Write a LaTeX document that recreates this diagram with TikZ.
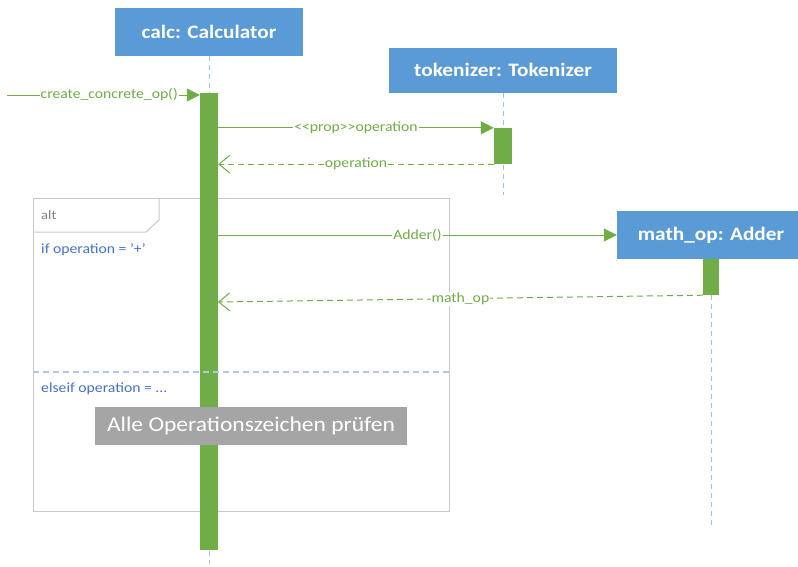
\documentclass[tikz,border=0pt]{standalone}
\usepackage{fontspec}
\setmainfont[FakeStretch=1.12]{Carlito}
\usepackage{tikz}
\usetikzlibrary{arrows.meta}
\definecolor{umlblue}{HTML}{5B9BD5}
\definecolor{umlgreen}{HTML}{70AD47}
\definecolor{lifeblue}{HTML}{9DC3E6}
\definecolor{condblue}{HTML}{4472C4}
\definecolor{sepblue}{HTML}{B4C7E7}
\definecolor{framegray}{HTML}{C8C8C8}
\definecolor{notegray}{HTML}{A5A5A5}

\begin{document}
\begin{tikzpicture}[x=1pt, y=-1pt,
  object/.style={fill=umlblue, text=white, font=\fontsize{19}{23}\selectfont\bfseries, minimum height=48pt, inner sep=0pt},
  activation/.style={fill=umlgreen, minimum width=18pt, inner sep=0pt},
  lifeline/.style={draw=lifeblue, line width=1pt, dash pattern=on 5pt off 4pt},
  call/.style={draw=umlgreen, line width=1pt, -{Triangle[length=13pt,width=13pt]}},
  reply/.style={draw=umlgreen, line width=1pt, dash pattern=on 6pt off 4pt, -{Straight Barb[length=11pt,width=18pt]}},
  msglabel/.style={fill=white, text=umlgreen, font=\fontsize{14}{16}\selectfont, inner sep=1pt},
  cond/.style={text=condblue, font=\fontsize{14}{16}\selectfont, anchor=west, inner sep=0pt}]
  \useasboundingbox (0,0) rectangle (798,566);

  % alt fragment
  \draw[framegray, line width=1pt] (33,198) rectangle (449,511);
  \draw[framegray, line width=1pt] (33,232) -- (146,232) -- (159,220) -- (159,198);
  \node[anchor=west, text=gray, font=\fontsize{13}{15}\selectfont, inner sep=0pt] (alt) at (41,215) {alt};
  \node[cond] (ifplus) at (41,250) {if operation = '+'};
  \node[cond] (elseif) at (41,389) {elseif operation = ...};

  \node[object, minimum width=188pt] (calc) at (209,32) {calc: Calculator};
  \node[object, minimum width=228pt, minimum height=45pt] (tokenizer) at (503,70) {tokenizer: Tokenizer};
  \node[object, minimum width=188pt] (mathop) at (711,235) {math\_op: Adder};

  \draw[lifeline] (calc.south) -- ++(0,508);
  \draw[lifeline] (tokenizer.south) -- ++(0,102);
  \draw[lifeline] (mathop.south) -- ++(0,266);

  \node[activation, minimum height=457pt] (calcbar) at (209,321.5) {};
  \node[activation, minimum height=36pt] (tokenizerbar) at (503,146) {};
  \node[activation, minimum width=16pt, minimum height=36pt] (mathopbar) at (711,277) {};

  \draw[sepblue, line width=1.5pt, dash pattern=on 6pt off 4pt] (33,372) -- (449,372);
  \node[fill=notegray, text=white, font=\fontsize{21}{25}\selectfont, minimum width=312pt, minimum height=38pt] (check) at (251,426) {Alle Operationszeichen prüfen};

  % messages
  \coordinate (caller) at (7,95);
  \draw[call] (caller) -- (caller -| calcbar.west) node[msglabel, pos=0.53] {create\_concrete\_op()};
  \draw[call] (calcbar.east |- tokenizerbar.north) -- (tokenizerbar.north west) node[msglabel, midway] {\textless{}\textless{}prop\textgreater{}\textgreater{}operation};
  \draw[reply] (tokenizerbar.south west) -- (calcbar.east |- tokenizerbar.south) node[msglabel, midway] {operation};
  \draw[call] (calcbar.east |- mathop.west) -- (mathop.west) node[msglabel, midway] {Adder()};
  \coordinate (mathopreturn) at (218,302);
  \draw[reply] (mathopbar.south west) -- (mathopreturn) node[msglabel, midway] {math\_op};
\end{tikzpicture}
\end{document}
